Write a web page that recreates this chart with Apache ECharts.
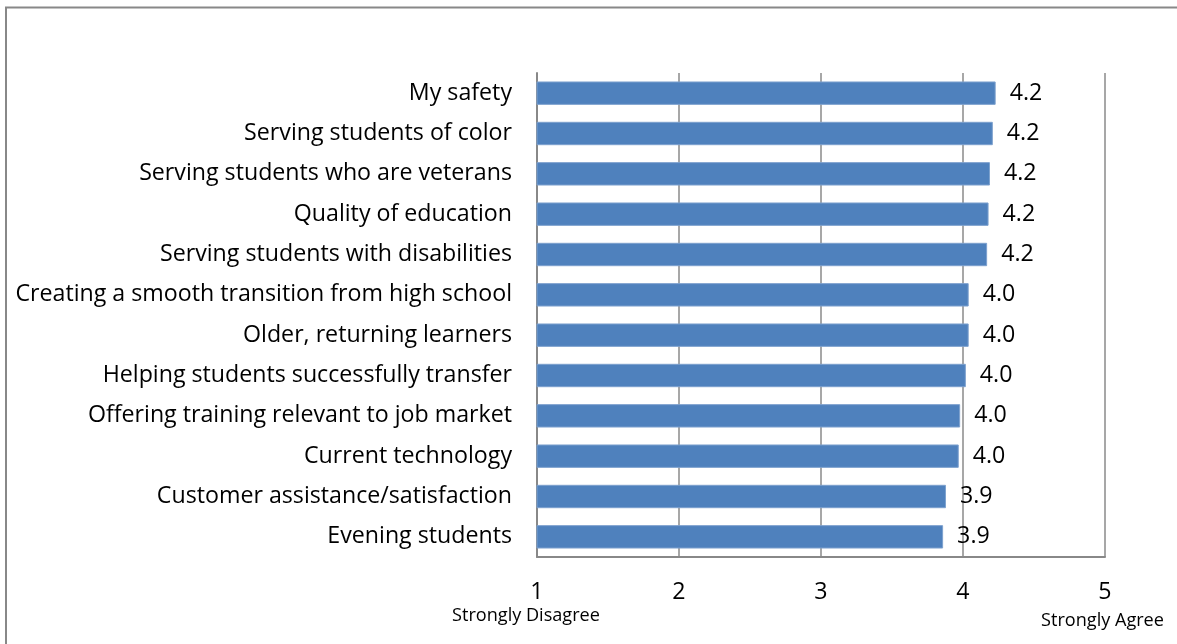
<!DOCTYPE html>
<html>
<head>
<meta charset="utf-8">
<script src="https://cdn.jsdelivr.net/npm/echarts@6/dist/echarts.min.js"></script>
<style>
  html, body { margin: 0; padding: 0; background: #ffffff; }
  #chart { width: 1177px; height: 644px; }
</style>
</head>
<body>
<div id="chart"></div>
<script>
// Survey items, top to bottom
const categories = [
  'My safety',
  'Serving students of color',
  'Serving students who are veterans',
  'Quality of education',
  'Serving students with disabilities',
  'Creating a smooth transition from high school',
  'Older, returning learners',
  'Helping students successfully transfer',
  'Offering training relevant to job market',
  'Current technology',
  'Customer assistance/satisfaction',
  'Evening students'
];

// Mean rating for each item (1 = Strongly Disagree, 5 = Strongly Agree)
const meanRatings = [4.23, 4.21, 4.19, 4.18, 4.17, 4.04, 4.04, 4.02, 3.98, 3.97, 3.88, 3.86];

// Scale ends with their captions
const scaleMin = 1;
const scaleMax = 5;
const scaleCaptions = { 1: 'Strongly Disagree', 5: 'Strongly Agree' };

const FONT = '"Open Sans", Lato, sans-serif';

// Size the text so the longest item name spans the space left of the plot
const ctx = document.createElement('canvas').getContext('2d');
ctx.font = '20px ' + FONT;
const longest = categories.reduce((a, b) => (a.length > b.length ? a : b));
const baseSize = Math.min(24, Math.max(16, 20 * 497 / ctx.measureText(longest).width));
const smallSize = baseSize * 0.78;

const chart = echarts.init(document.getElementById('chart'), null, { renderer: 'canvas' });

chart.setOption({
  backgroundColor: '#ffffff',
  animation: false,
  textStyle: { fontFamily: FONT, color: '#000000' },
  graphic: [{
    type: 'rect',
    shape: { x: 6, y: 7.5, width: 1300, height: 800 },
    style: { fill: 'none', stroke: '#888888', lineWidth: 2 },
    silent: true
  }],
  grid: { left: 537, right: 72, top: 73, bottom: 87, containLabel: false },
  xAxis: {
    type: 'value',
    min: scaleMin,
    max: scaleMax,
    interval: 1,
    axisLine: { show: true, lineStyle: { color: '#888888', width: 2 } },
    axisTick: { show: false },
    splitLine: { show: true, lineStyle: { color: '#8a8a8a', width: 1.5 } },
    axisLabel: {
      margin: 24,
      showMinLabel: true,
      showMaxLabel: true,
      formatter: function (v) {
        if (v === 1) return '{n|' + v + '}\n{lo|' + scaleCaptions[1] + '}';
        if (v === 5) return '{n|' + v + '}\n{hi|' + scaleCaptions[5] + '}';
        return '{n|' + v + '}';
      },
      rich: {
        n: { fontSize: baseSize, fontFamily: FONT, color: '#000000', lineHeight: 22 },
        lo: { fontSize: smallSize, fontFamily: FONT, color: '#000000', lineHeight: 26, padding: [0, 22, 0, 0] },
        hi: { fontSize: smallSize, fontFamily: FONT, color: '#000000', lineHeight: 32, padding: [4, 5, 0, 0] }
      }
    }
  },
  yAxis: {
    type: 'category',
    data: categories,
    inverse: true,
    axisLine: { show: true, lineStyle: { color: '#888888', width: 2 } },
    axisTick: { show: false },
    splitLine: { show: false },
    axisLabel: { fontSize: baseSize, color: '#000000', margin: 25, fontFamily: FONT }
  },
  series: [{
    type: 'bar',
    data: meanRatings,
    barCategoryGap: '42%',
    itemStyle: { color: '#4F81BD', borderColor: '#7DA1CE', borderWidth: 1 },
    label: {
      show: true,
      position: 'right',
      distance: 14,
      fontSize: baseSize,
      color: '#000000',
      fontFamily: FONT,
      formatter: function (p) { return p.value.toFixed(1); }
    }
  }]
});
</script>
</body>
</html>
